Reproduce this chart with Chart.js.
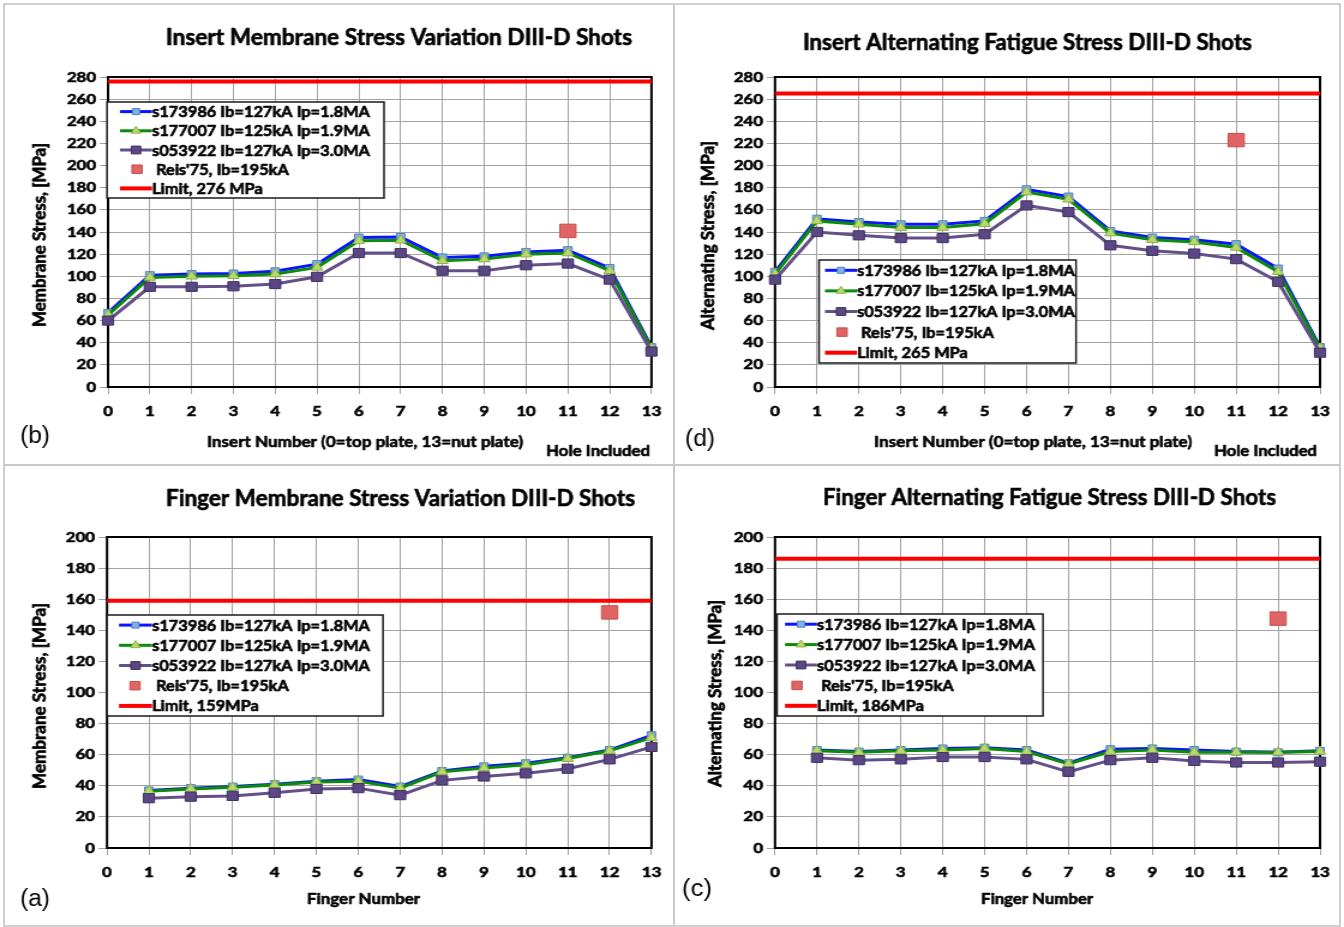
<!DOCTYPE html>
<html><head><meta charset="utf-8">
<script src="https://cdn.jsdelivr.net/npm/chart.js@4.4.0/dist/chart.umd.min.js"></script>
<style>
html,body{margin:0;padding:0;background:#fff;}
#page{position:relative;width:1344px;height:927px;overflow:hidden;background:#fff;}
.panel{position:absolute;transform-origin:0 0;}
.sep{position:absolute;background:#c9c9c9;}
</style></head><body>
<div id="page">
  <div class="panel" id="pb" style="left:0;top:0"><canvas id="cb" width="560" height="465"></canvas></div>
  <div class="panel" id="pd" style="left:672px;top:0"><canvas id="cd" width="560" height="465"></canvas></div>
  <div class="panel" id="pa" style="left:0;top:465px"><canvas id="ca" width="560" height="462"></canvas></div>
  <div class="panel" id="pc" style="left:672px;top:465px"><canvas id="cc" width="560" height="462"></canvas></div>
  <div class="sep" style="left:673px;top:4px;width:2px;height:921px"></div>
  <div class="sep" style="left:4px;top:464px;width:1336px;height:2px"></div>
  <div style="position:absolute;left:3px;top:3px;width:1334px;height:920px;border:2px solid #cfcfcf;"></div>
</div>
<script>
// ---------------- DATA ----------------
const insertNumbers = [0,1,2,3,4,5,6,7,8,9,10,11,12,13];
const fingerNumbers = [1,2,3,4,5,6,7,8,9,10,11,12,13];
const axisRange = [0, 13];

const seriesNames = ['s173986 Ib=127kA Ip=1.8MA','s177007 Ib=125kA Ip=1.9MA','s053922 Ib=127kA Ip=3.0MA'];
const reisName = " Reis'75, Ib=195kA";

// (b) Insert membrane stress
const insertMembrane_s173986 = [67,101,102,102.5,104.5,111,135,135.5,117,118,122,123.5,107.5,36];
const insertMembrane_s177007 = [65,99,100,100.5,102,108,132,132.5,114,115.5,120,121,105,35];
const insertMembrane_s053922 = [60,90.5,90.5,91,93,99.5,121,121,105,105,110,111.5,97,32];
const insertMembraneReis = [{x:11, y:141}];
const insertMembraneLimit = 276;

// (d) Insert alternating stress
const insertAlt_s173986 = [104,152,149,147,147,150,178.5,172,141,135,133,129,107,36];
const insertAlt_s177007 = [102,150,147,144,144,147.5,176,169.5,139,133,131,126,104,35];
const insertAlt_s053922 = [97,140,137,134.5,134.5,138,164,158,128,123,120.5,115.5,95,31];
const insertAltReis = [{x:11, y:223}];
const insertAltLimit = 265;

// (a) Finger membrane stress
const fingerMem_s173986 = [37,38.5,39.5,41,43,44,39.5,49.5,52.5,54.5,58,63,72.5];
const fingerMem_s177007 = [36.5,38,39,40.5,42.5,43,38.5,49,51.5,53.5,57.5,62.5,71];
const fingerMem_s053922 = [32,33,33.5,35.5,38,38.5,34,43.5,46,48,51,57,65];
const fingerMemReis = [{x:12, y:151.5}];
const fingerMemLimit = 159;

// (c) Finger alternating stress
const fingerAlt_s173986 = [63,62,63,64,64.5,63,54.5,63.5,64,63,62,61.5,62.5];
const fingerAlt_s177007 = [62.5,61.5,62.5,63,64,62,54,62,63,61.5,61.5,61.5,62];
const fingerAlt_s053922 = [58,56.5,57,58.5,58.5,57,49,56.5,58,56,55,55,55.5];
const fingerAltReis = [{x:12, y:147.5}];
const fingerAltLimit = 186;

// ---------------- STYLE ----------------
const S = 1.2;               // horizontal stretch of the figure
const FONT = 'Lato, "Open Sans", sans-serif';
const BOLD = 'bold';
const STROKE = 0.6;          // extra weight for text
const styles = [
  {line:'#0a14ff', fill:'#7eb3ea', border:'#4f81bd', style:'rect', r:5},
  {line:'#0b8a0b', fill:'#b9d96c', border:'#8fb04a', style:'triangle', r:5.5},
  {line:'#63508a', fill:'#5a4784', border:'#3f3160', style:'rect', r:6.5}
];
const reisStyle = {fill:'#e06464', border:'#c0504d'};
const limitColor = '#ff0000';

function pts(xs, ys){ return xs.map((x,i)=>({x:x, y:ys[i]})); }

function heavyText(ctx, s, x, y, stroke){
  if (stroke > 0) { ctx.lineWidth = stroke; ctx.strokeStyle = '#000'; ctx.lineJoin = 'round'; ctx.strokeText(s, x, y); }
  ctx.fillStyle = '#000'; ctx.fillText(s, x, y);
}

function decoPlugin(cfg){
  return {
    id:'deco',
    beforeDatasetsDraw(chart){
      const ctx = chart.ctx, a = chart.chartArea;
      ctx.save();
      ctx.strokeStyle = '#000'; ctx.lineWidth = 2;
      ctx.strokeRect(a.left, a.top, a.right - a.left, a.bottom - a.top);
      ctx.restore();
    },
    afterDatasetsDraw(chart){
      const ctx = chart.ctx;
      const L = cfg.legend;
      ctx.save();
      const bx = L.x / S, bw = L.w / S;
      ctx.fillStyle = '#fff';
      ctx.fillRect(bx, L.y, bw, L.h);
      ctx.strokeStyle = '#1a1a1a'; ctx.lineWidth = 1.5;
      ctx.strokeRect(bx, L.y, bw, L.h);
      ctx.font = BOLD + ' 15.5px ' + FONT;
      const sx = (218 / S) / ctx.measureText(seriesNames[0]).width;
      ctx.textAlign = 'left'; ctx.textBaseline = 'middle';
      const x1 = (L.x + L.ls) / S, x2 = (L.x + L.le) / S, xm = (x1 + x2) / 2;
      const rowY = i => L.y + L.h * (i + 0.5) / 5;
      const txt = (s, y) => {
        ctx.save(); ctx.translate(x2, y + 0.5); ctx.scale(sx, 1);
        heavyText(ctx, s, 0, 0, STROKE); ctx.restore();
      };
      for (let i = 0; i < 3; i++) {
        const st = styles[i], y = rowY(i);
        ctx.strokeStyle = st.line; ctx.lineWidth = 3;
        ctx.beginPath(); ctx.moveTo(x1, y); ctx.lineTo(x2, y); ctx.stroke();
        ctx.fillStyle = st.fill; ctx.strokeStyle = st.border; ctx.lineWidth = 1;
        Chart.helpers.drawPoint(ctx, {pointStyle: st.style, rotation: 0, radius: st.r * 0.85, borderWidth: 1}, xm, y);
        txt(seriesNames[i], y);
      }
      let y = rowY(3);
      ctx.fillStyle = reisStyle.fill; ctx.strokeStyle = reisStyle.border; ctx.lineWidth = 1;
      Chart.helpers.drawPoint(ctx, {pointStyle:'rect', rotation:0, radius:6, borderWidth:1}, (L.x + L.reis) / S, y);
      txt(reisName, y);
      y = rowY(4);
      ctx.strokeStyle = limitColor; ctx.lineWidth = 4;
      ctx.beginPath(); ctx.moveTo(x1, y); ctx.lineTo(x2, y); ctx.stroke();
      txt(cfg.limitLabel, y);
      ctx.restore();
    },
    afterDraw(chart){
      const ctx = chart.ctx;
      cfg.texts.forEach(t => {
        ctx.save();
        const family = t.family || FONT;
        const weight = t.weight || BOLD;
        ctx.font = weight + ' ' + t.size + 'px ' + family;
        const m = ctx.measureText(t.text).width;
        const target = t.rot ? t.w : t.w / S;
        ctx.textAlign = 'center'; ctx.textBaseline = 'middle';
        ctx.translate(t.x / S, t.y);
        if (t.rot) ctx.rotate(-Math.PI / 2);
        ctx.scale(target / m, 1);
        heavyText(ctx, t.text, 0, 0, t.weight === 'normal' ? 0 : STROKE);
        ctx.restore();
      });
    }
  };
}

function makeChart(canvasId, wrapId, cfg){
  const canvas = document.getElementById(canvasId);
  document.getElementById(wrapId).style.transform = 'scaleX(' + S + ')';
  const W = canvas.width, H = canvas.height;
  const A = cfg.area;
  const datasets = [];
  cfg.series.forEach((ys, i) => {
    const st = styles[i];
    datasets.push({
      label: seriesNames[i], data: pts(cfg.xs, ys),
      borderColor: st.line, borderWidth: 3, backgroundColor: st.fill,
      pointStyle: st.style, pointRadius: st.r, pointBackgroundColor: st.fill,
      pointBorderColor: st.border, pointBorderWidth: 1, tension: 0, clip: false, order: 3 - i
    });
  });
  datasets.push({
    label: 'Limit', data: [{x: axisRange[0], y: cfg.limit}, {x: axisRange[1], y: cfg.limit}],
    borderColor: limitColor, borderWidth: 4, pointRadius: 0, order: 0
  });
  datasets.push({
    label: reisName, data: cfg.reis, showLine: false,
    pointStyle: 'rect', pointRadius: 9.5, pointBackgroundColor: reisStyle.fill,
    pointBorderColor: reisStyle.border, pointBorderWidth: 1, clip: false, order: -1
  });
  const gridCfg = {color: '#a3a3a3', lineWidth: 1, tickLength: 7, drawTicks: true};
  const tickFont = {family: FONT, size: 14, weight: BOLD};
  const tickBase = {color: '#000', font: tickFont, textStrokeColor: '#000', textStrokeWidth: STROKE};
  new Chart(canvas, {
    type: 'line',
    data: {datasets: datasets},
    options: {
      responsive: false, animation: false, devicePixelRatio: 1,
      layout: {padding: {left: 0, top: A.t, right: W - A.r / S, bottom: 0}},
      plugins: {legend: {display: false}, tooltip: {enabled: false}, title: {display: false}},
      scales: {
        x: {
          type: 'linear', min: axisRange[0], max: axisRange[1],
          ticks: Object.assign({stepSize: 1, padding: 9, maxRotation: 0}, tickBase),
          grid: gridCfg, border: {display: false},
          afterFit: s => { s.height = H - A.b; }
        },
        y: {
          min: 0, max: cfg.ymax,
          ticks: Object.assign({stepSize: 20, padding: 3}, tickBase),
          grid: gridCfg, border: {display: false},
          afterFit: s => { s.width = A.l / S; }
        }
      }
    },
    plugins: [decoPlugin(cfg)]
  });
}

const LBL = '"Liberation Sans", Arial, sans-serif';
makeChart('cb', 'pb', {
  xs: insertNumbers, series: [insertMembrane_s173986, insertMembrane_s177007, insertMembrane_s053922],
  reis: insertMembraneReis, limit: insertMembraneLimit, ymax: 280, limitLabel: 'Limit, 276 MPa',
  area: {l:108, r:654, t:77, b:387},
  legend: {x:107, y:102, w:277, h:96, ls:13, le:45, reis:30},
  texts: [
    {text:'Insert Membrane Stress Variation DIII-D Shots', x:399, y:38, w:466, size:22},
    {text:'Membrane Stress, [MPa]', x:40, y:235, w:184, size:16, rot:true},
    {text:'Insert Number (0=top plate, 13=nut plate)', x:365, y:442, w:316, size:15.5},
    {text:'Hole Included', x:598, y:451, w:104, size:15.5},
    {text:'(b)', x:35, y:437, w:30, size:23, weight:'normal', family:LBL}
  ]
});
makeChart('cd', 'pd', {
  xs: insertNumbers, series: [insertAlt_s173986, insertAlt_s177007, insertAlt_s053922],
  reis: insertAltReis, limit: insertAltLimit, ymax: 280, limitLabel: 'Limit, 265 MPa',
  area: {l:103, r:648, t:77, b:387},
  legend: {x:147, y:260, w:257, h:103, ls:6, le:38, reis:23},
  texts: [
    {text:'Insert Alternating Fatigue Stress DIII-D Shots', x:355.5, y:43, w:449, size:22},
    {text:'Alternating Stress, [MPa]', x:36, y:235.5, w:189, size:16, rot:true},
    {text:'Insert Number (0=top plate, 13=nut plate)', x:361, y:442, w:318, size:15.5},
    {text:'Hole Included', x:593.5, y:451, w:103, size:15.5},
    {text:'(d)', x:28, y:440, w:30, size:23, weight:'normal', family:LBL}
  ]
});
makeChart('ca', 'pa', {
  xs: fingerNumbers, series: [fingerMem_s173986, fingerMem_s177007, fingerMem_s053922],
  reis: fingerMemReis, limit: fingerMemLimit, ymax: 200, limitLabel: 'Limit, 159MPa',
  area: {l:107, r:652, t:72, b:383},
  legend: {x:107, y:150, w:276, h:101, ls:12, le:45, reis:28},
  texts: [
    {text:'Finger Membrane Stress Variation DIII-D Shots', x:400.5, y:34, w:469, size:22},
    {text:'Membrane Stress, [MPa]', x:39, y:231, w:186, size:16, rot:true},
    {text:'Finger Number', x:363.5, y:434, w:113, size:15.5},
    {text:'(a)', x:35, y:435, w:30, size:23, weight:'normal', family:LBL}
  ]
});
makeChart('cc', 'pc', {
  xs: fingerNumbers, series: [fingerAlt_s173986, fingerAlt_s177007, fingerAlt_s053922],
  reis: fingerAltReis, limit: fingerAltLimit, ymax: 200, limitLabel: 'Limit, 186MPa',
  area: {l:103, r:648, t:72, b:383},
  legend: {x:105, y:149, w:266, h:102, ls:8, le:40, reis:20},
  texts: [
    {text:'Finger Alternating Fatigue Stress DIII-D Shots', x:377.5, y:33, w:453, size:22},
    {text:'Alternating Stress, [MPa]', x:43, y:228.5, w:187, size:16, rot:true},
    {text:'Finger Number', x:365, y:434, w:112, size:15.5},
    {text:'(c)', x:25, y:425, w:30, size:23, weight:'normal', family:LBL}
  ]
});
</script>
</body></html>
